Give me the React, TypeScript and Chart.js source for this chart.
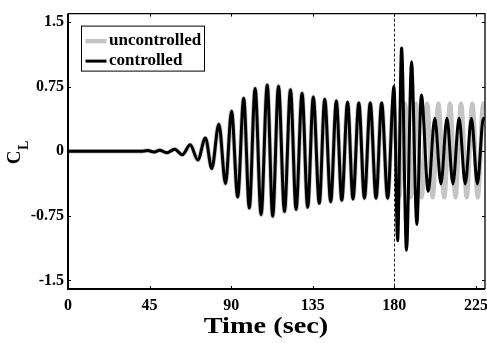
import React, { useEffect, useRef } from 'react';
import { Chart, registerables } from 'chart.js';

Chart.register(...registerables);

// ---- data (extrema) ----
const sharedTime = [0, 40, 44, 47.5, 50.6, 54.5, 58.8, 63.1, 67.4, 71.6, 75.8, 79.3, 83.2, 86.9, 90.2, 93.6, 96.9, 100.0, 103.2, 106.5, 109.9, 112.9, 116.1, 119.4, 122.7, 125.8, 129.1, 132.2, 135.3, 138.6, 141.6, 144.9, 148.0, 151.0, 154.2, 157.2, 160.4, 163.5, 166.7, 169.9, 173.0, 176.3];
const sharedCL = [0, 0, 0.008, -0.008, 0.012, -0.018, 0.025, -0.04, 0.075, -0.1, 0.155, -0.2, 0.315, -0.375, 0.465, -0.53, 0.615, -0.66, 0.73, -0.735, 0.77, -0.755, 0.755, -0.7, 0.715, -0.675, 0.675, -0.65, 0.63, -0.605, 0.605, -0.585, 0.585, -0.57, 0.57, -0.555, 0.56, -0.545, 0.56, -0.545, 0.56, -0.545];

const uncontrolledTime = [179.4, 182.6, 185.8, 189.0, 192.0, 195.0, 198.1, 201.1, 204.3, 207.5, 210.7, 213.7, 216.8, 219.9, 223.0, 226.0, 229.1, 230];
const uncontrolledCL = [0.555, -0.535, 0.555, -0.535, 0.555, -0.535, 0.555, -0.535, 0.555, -0.535, 0.555, -0.535, 0.555, -0.535, 0.555, -0.535, 0.555, 0.52];

const controlledTime = [179.8, 181.8, 184.0, 186.7, 189.5, 192.4, 194.9, 198.7, 202.3, 205.7, 209.0, 212.3, 215.7, 219.1, 222.5, 225.8, 229.1, 230];
const controlledCL = [0.755, -1.04, 1.2, -1.15, 1.04, -0.85, 0.655, -0.465, 0.385, -0.38, 0.385, -0.38, 0.385, -0.38, 0.385, -0.38, 0.385, 0.36];

const seriesNames = ['uncontrolled', 'controlled'];
const seriesColors = ['#c4c4c4', '#000000'];
const xTickValues = [0, 45, 90, 135, 180, 225];
const xTickLabels = ['0', '45', '90', '135', '180', '225'];
const yTickValues = [-1.5, -0.75, 0, 0.75, 1.5];
const yTickLabels = ['-1.5', '-0.75', '0', '0.75', '1.5'];
const controlStartTime = 180;
const xTitle = 'Time (sec)';
const yTitleMain = 'C';
const yTitleSub = 'L';

const SERIF = '"Liberation Serif", "Times New Roman", Times, serif';

function toPoints(t: number[], v: number[]) {
  return t.map((x, i) => ({ x, y: v[i] }));
}

const decorPlugin = {
  id: 'decor',
  beforeDatasetsDraw(chart: any) {
    const { ctx, chartArea, scales } = chart;
    const px = Math.round(scales.x.getPixelForValue(controlStartTime)) + 0.5;
    ctx.save();
    ctx.beginPath();
    ctx.setLineDash([3, 2]);
    ctx.lineWidth = 1;
    ctx.strokeStyle = '#222';
    ctx.moveTo(px, chartArea.top);
    ctx.lineTo(px, chartArea.bottom);
    ctx.stroke();
    ctx.restore();
  },
  afterDatasetsDraw(chart: any) {
    const { ctx, chartArea, scales } = chart;
    const { left, right, top, bottom } = chartArea;
    ctx.save();
    ctx.strokeStyle = '#000';
    // inward ticks
    ctx.lineWidth = 1;
    const tl = 3;
    xTickValues.forEach((v) => {
      const p = Math.round(scales.x.getPixelForValue(v)) + 0.5;
      ctx.beginPath();
      ctx.moveTo(p, bottom); ctx.lineTo(p, bottom - tl);
      ctx.moveTo(p, top); ctx.lineTo(p, top + tl);
      ctx.stroke();
    });
    yTickValues.forEach((v) => {
      const p = Math.round(scales.y.getPixelForValue(v)) + 0.5;
      ctx.beginPath();
      ctx.moveTo(left, p); ctx.lineTo(left + tl, p);
      ctx.moveTo(right, p); ctx.lineTo(right - tl, p);
      ctx.stroke();
    });
    // frame
    ctx.lineWidth = 1.3;
    ctx.beginPath();
    ctx.moveTo(left, top); ctx.lineTo(right, top); ctx.lineTo(right, bottom);
    ctx.stroke();
    ctx.lineWidth = 2;
    ctx.beginPath();
    ctx.moveTo(left, top); ctx.lineTo(left, bottom); ctx.lineTo(right, bottom);
    ctx.stroke();
    ctx.restore();
  },
  afterDraw(chart: any) {
    const { ctx, chartArea } = chart;
    const { left, top } = chartArea;
    ctx.save();
    // legend box
    const bx = left + 13.5, by = top + 12.5, bw = 123, bh = 45;
    ctx.fillStyle = '#fff';
    ctx.fillRect(bx, by, bw, bh);
    ctx.lineWidth = 1;
    ctx.strokeStyle = '#000';
    ctx.strokeRect(bx, by, bw, bh);
    const rows = [by + 15, by + 35];
    const widths = [4.5, 3];
    seriesNames.forEach((name, i) => {
      ctx.beginPath();
      ctx.lineWidth = widths[i];
      ctx.strokeStyle = seriesColors[i];
      ctx.moveTo(bx + 4, rows[i]);
      ctx.lineTo(bx + 25, rows[i]);
      ctx.stroke();
      ctx.fillStyle = '#000';
      ctx.font = `bold 17px ${SERIF}`;
      ctx.textBaseline = 'middle';
      ctx.textAlign = 'left';
      ctx.fillText(name, bx + 27.5, rows[i]);
    });
    ctx.restore();

    // x axis title (slightly wide lettering, as in the reference)
    ctx.save();
    ctx.translate(266, 333);
    ctx.scale(1.18, 1);
    ctx.fillStyle = '#000';
    ctx.font = `bold 24px ${SERIF}`;
    ctx.textAlign = 'center';
    ctx.textBaseline = 'alphabetic';
    ctx.fillText(xTitle, 0, 0);
    ctx.restore();

    // y axis title C_L (rotated)
    ctx.save();
    ctx.translate(20, (chartArea.top + chartArea.bottom) / 2 + 6);
    ctx.rotate(-Math.PI / 2);
    ctx.fillStyle = '#000';
    ctx.textBaseline = 'alphabetic';
    ctx.textAlign = 'center';
    ctx.font = `bold 19px ${SERIF}`;
    ctx.fillText(yTitleMain, 0, 0);
    ctx.font = `bold 14px ${SERIF}`;
    ctx.fillText(yTitleSub, 12, 8);
    ctx.restore();
  },
};

export default function App() {
  const ref = useRef<HTMLCanvasElement | null>(null);
  useEffect(() => {
    document.body.style.margin = '0';
    const canvas = ref.current;
    if (!canvas) return;
    const chart = new Chart(canvas, {
      type: 'line',
      data: {
        datasets: [
          {
            label: seriesNames[0],
            data: toPoints(sharedTime.concat(uncontrolledTime), sharedCL.concat(uncontrolledCL)),
            borderColor: seriesColors[0],
            borderWidth: 4.5,
            pointRadius: 0,
            cubicInterpolationMode: 'monotone',
            fill: false,
            order: 1,
          },
          {
            label: seriesNames[1],
            data: toPoints(sharedTime.concat(controlledTime), sharedCL.concat(controlledCL)),
            borderColor: seriesColors[1],
            borderWidth: 3,
            pointRadius: 0,
            cubicInterpolationMode: 'monotone',
            fill: false,
            order: 0,
          },
        ],
      },
      options: {
        animation: false,
        responsive: true,
        maintainAspectRatio: false,
        events: [],
        layout: { padding: { top: 13, right: 2, left: 0, bottom: 4 } },
        plugins: { legend: { display: false }, tooltip: { enabled: false } },
        scales: {
          x: {
            type: 'linear',
            min: 0,
            max: 230,
            afterBuildTicks: (s: any) => { s.ticks = xTickValues.map((v) => ({ value: v })); },
            afterFit: (s: any) => { s.height = 50; s.paddingLeft = 0; s.paddingRight = 0; },
            grid: { display: false, drawTicks: false },
            border: { display: false },
            ticks: {
              autoSkip: false,
              maxRotation: 0,
              padding: 7,
              color: '#000',
              font: { family: SERIF, size: 16, weight: 'bold' },
              callback: (v: any) => { const i = xTickValues.indexOf(Number(v)); return i >= 0 ? xTickLabels[i] : ''; },
            },
            title: { display: false },
          },
          y: {
            type: 'linear',
            min: -1.6,
            max: 1.6,
            afterBuildTicks: (s: any) => { s.ticks = yTickValues.map((v) => ({ value: v })); },
            afterFit: (s: any) => { s.width = 68; },
            grid: { display: false, drawTicks: false },
            border: { display: false },
            ticks: {
              autoSkip: false,
              padding: 4,
              color: '#000',
              font: { family: SERIF, size: 16, weight: 'bold' },
              callback: (v: any) => { const i = yTickValues.indexOf(Number(v)); return i >= 0 ? yTickLabels[i] : ''; },
            },
          },
        },
      } as any,
      plugins: [decorPlugin],
    });
    return () => chart.destroy();
  }, []);
  return (
    <div style={{ width: 487, height: 343, position: 'relative', background: '#fff' }}>
      <canvas ref={ref} />
    </div>
  );
}
